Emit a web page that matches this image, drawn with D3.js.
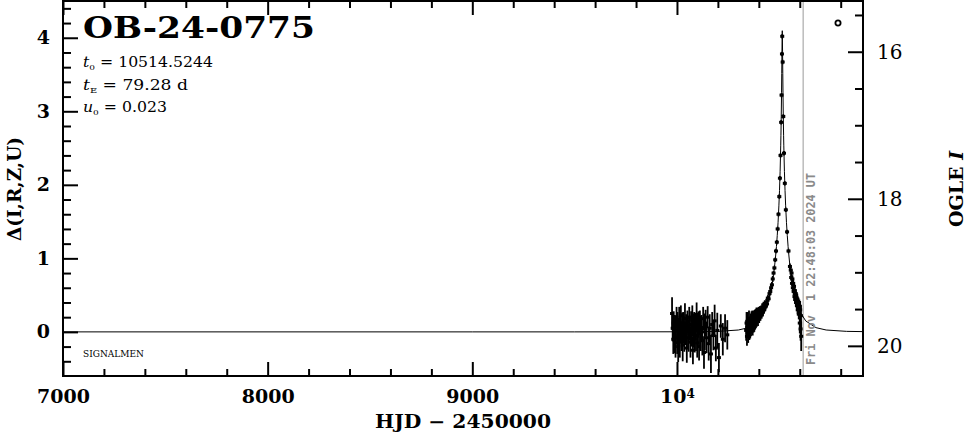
<!DOCTYPE html>
<html><head><meta charset="utf-8">
<script src="https://cdn.jsdelivr.net/npm/d3@7"></script>
<style>body{margin:0;background:#fff}</style></head>
<body>
<svg id="c" width="966" height="434"></svg>
<script>
// ---- tick values / labels ----
const xMajorTicks = [7000, 8000, 9000, 10000];
const xTickLabels = ["7000", "8000", "9000", "10^4"];
const yLeftTicks = [0, 1, 2, 3, 4];
const yRightTicks = [16, 18, 20];

// ---- texts ----
const eventName = "OB-24-0775";
const paramLines = [["t", "0", " = 10514.5244"], ["t", "E", " = 79.28 d"], ["u", "0", " = 0.023"]];
const dateText = "Fri Nov  1 22:48:03 2024 UT";
const dateHJD = 10616.45;

// ---- model curve ----
const modelT = [7000, 9000, 9500, 10000, 10200, 10300, 10350, 10400, 10430, 10439.5, 10450, 10459.5, 10466, 10470, 10474, 10478, 10482, 10486, 10490, 10494, 10498, 10501, 10504, 10507, 10508, 10509.5, 10511, 10512, 10513, 10514.52, 10516.04, 10517.04, 10518.04, 10519.54, 10521.04, 10522.04, 10525.04, 10528.04, 10531.04, 10535.04, 10539.04, 10543.04, 10547.04, 10551.04, 10555.04, 10559.04, 10563.04, 10569.5, 10579.04, 10589.5, 10599.04, 10629.04, 10679.04, 10729.04, 10829.04, 10909];
const modelD = [0, 0.0001, 0.0001, 0.0012, 0.0071, 0.0256, 0.0575, 0.149, 0.283, 0.352, 0.451, 0.569, 0.670, 0.744, 0.827, 0.922, 1.032, 1.159, 1.309, 1.490, 1.714, 1.922, 2.184, 2.530, 2.674, 2.929, 3.252, 3.515, 3.809, 4.096, 3.809, 3.515, 3.252, 2.929, 2.674, 2.530, 2.184, 1.922, 1.714, 1.490, 1.309, 1.159, 1.032, 0.922, 0.827, 0.744, 0.670, 0.569, 0.451, 0.352, 0.283, 0.149, 0.0575, 0.0256, 0.0071, 0.0036];

// ---- OGLE observations: season 2023 ----
const s23T = [9976, 9979, 9982, 9984, 9987, 9990, 9993, 9995, 9998, 10001,
  10003, 10006, 10009, 10011, 10014, 10017, 10019, 10022, 10025, 10028,
  10030, 10033, 10036, 10039, 10042, 10045, 10048, 10051, 10054, 10057,
  10060, 10063, 10066, 10069, 10072, 10075, 10078, 10081, 10084, 10087,
  10090, 10093, 10096, 10099, 10102, 10105, 10108, 10112, 10116, 10120,
  10124, 10128, 10132, 10136, 10140, 10145, 10150, 10155, 10160, 10166,
  10172, 10178, 10184, 10190, 10197, 10205, 10214, 10224, 10235, 10246];
const s23D = [0.25, 0.05, -0.10, 0.12, -0.05, 0.08, -0.15, 0.02, 0.20, -0.08,
  0.10, -0.20, 0.04, 0.15, -0.12, 0.00, 0.22, -0.06, 0.08, -0.18,
  0.12, 0.03, -0.10, 0.18, -0.02, 0.06, -0.22, 0.14, 0.00, -0.08,
  0.20, 0.05, -0.14, 0.10, -0.04, 0.16, -0.25, 0.02, 0.12, -0.10,
  0.07, -0.05, 0.24, -0.15, 0.03, 0.10, -0.20, 0.14, -0.02, 0.06,
  -0.12, 0.18, -0.28, 0.00, 0.12, -0.08, 0.20, -0.16, 0.05, -0.30,
  0.10, -0.05, 0.15, -0.22, 0.02, -0.35, 0.08, -0.10, 0.05, -0.04];
const s23E = [0.22, 0.18, 0.20, 0.16, 0.24, 0.15, 0.20, 0.18, 0.14, 0.22,
  0.17, 0.21, 0.15, 0.19, 0.23, 0.16, 0.14, 0.20, 0.18, 0.22,
  0.15, 0.19, 0.17, 0.21, 0.16, 0.18, 0.20, 0.15, 0.22, 0.19,
  0.14, 0.17, 0.21, 0.18, 0.16, 0.20, 0.19, 0.23, 0.15, 0.18,
  0.17, 0.21, 0.16, 0.20, 0.22, 0.18, 0.19, 0.15, 0.24, 0.17,
  0.20, 0.16, 0.22, 0.25, 0.18, 0.21, 0.15, 0.23, 0.19, 0.26,
  0.17, 0.20, 0.22, 0.18, 0.24, 0.20, 0.16, 0.22, 0.19, 0.20];

// ---- season 2024 ----
const s24T = [10338, 10340, 10342, 10344, 10346, 10348, 10350, 10352, 10354, 10356,
  10358, 10360, 10362, 10364, 10366, 10368, 10370, 10372, 10374, 10376,
  10378, 10380, 10382, 10384, 10386, 10388, 10390, 10393, 10396, 10399,
  10402, 10405, 10408, 10411, 10414, 10417, 10420, 10423, 10426, 10429,
  10432, 10436, 10440, 10444, 10448, 10452, 10456, 10460,
  10464, 10468, 10472, 10476, 10480, 10484, 10488, 10492, 10496, 10500,
  10503, 10506, 10509, 10511, 10513, 10514.3,
  10516.5, 10519.5, 10523, 10527, 10532, 10538, 10545, 10552, 10556, 10558,
  10560, 10562, 10564, 10566, 10568, 10570, 10572, 10574, 10576, 10578,
  10580, 10582, 10584, 10586, 10588, 10590, 10593, 10595, 10598, 10600,
  10602, 10604, 10606, 10607];
const s24D = [0.02, 0.12, -0.06, 0.06, 0.15, -0.02, 0.08, 0.16, 0.01, 0.10,
  0.03, 0.14, 0.06, 0.17, 0.08, 0.18, 0.05, 0.16, 0.09, 0.20,
  0.10, 0.21, 0.12, 0.22, 0.13, 0.24, 0.15, 0.25, 0.16, 0.27,
  0.19, 0.28, 0.22, 0.30, 0.24, 0.33, 0.27, 0.36, 0.30, 0.38,
  0.34, 0.40, 0.38, 0.46, 0.45, 0.52, 0.55, 0.60,
  0.64, 0.72, 0.80, 0.87, 0.98, 1.10, 1.22, 1.40, 1.60, 1.84,
  2.09, 2.40, 2.85, 3.22, 3.78, 4.02,
  3.67, 2.93, 2.43, 2.02, 1.66, 1.36, 1.10, 0.89, 0.84, 0.74,
  0.80, 0.66, 0.72, 0.60, 0.66, 0.55, 0.62, 0.48, 0.56, 0.44,
  0.52, 0.40, 0.47, 0.36, 0.44, 0.30, 0.38, 0.26, 0.34, 0.12,
  0.30, 0.04, 0.22, -0.06];
const s24E = [0.14, 0.15, 0.13, 0.14, 0.12, 0.13, 0.12, 0.13, 0.12, 0.11,
  0.12, 0.11, 0.12, 0.11, 0.10, 0.11, 0.10, 0.10, 0.10, 0.09,
  0.10, 0.09, 0.09, 0.09, 0.08, 0.09, 0.08, 0.08, 0.08, 0.07,
  0.07, 0.07, 0.07, 0.06, 0.06, 0.06, 0.06, 0.05, 0.05, 0.05,
  0.05, 0.05, 0.05, 0.04, 0.04, 0.04, 0.04, 0.04,
  0.04, 0.04, 0.03, 0.03, 0.03, 0.03, 0.03, 0.03, 0.03, 0.03,
  0.03, 0.03, 0.03, 0.03, 0.03, 0.03,
  0.03, 0.03, 0.03, 0.03, 0.03, 0.03, 0.03, 0.04, 0.04, 0.04,
  0.04, 0.04, 0.05, 0.05, 0.05, 0.05, 0.05, 0.06, 0.06, 0.06,
  0.06, 0.07, 0.07, 0.07, 0.08, 0.08, 0.09, 0.09, 0.10, 0.14,
  0.12, 0.16, 0.15, 0.20];

const baseI = 19.81; // OGLE I at Delta = 0

// ---------------- drawing ----------------
const svg = d3.select("#c");
const L = 63, R = 863, T = 1, B = 376;
const x = d3.scaleLinear().domain([7000, 10909]).range([L, R]);
const y = d3.scaleLinear().domain([-0.6, 4.5]).range([B, T]);
const yR = d3.scaleLinear().domain([baseI + 0.6, baseI - 4.5]).range([B, T]);
const serif = "'DejaVu Serif', serif";

svg.append("rect").attr("width", 966).attr("height", 434).attr("fill", "#fff");

svg.append("defs").append("clipPath").attr("id", "clip")
  .append("rect").attr("x", L).attr("y", T).attr("width", R - L).attr("height", B - T);

const plot = svg.append("g").attr("clip-path", "url(#clip)");

// date line
plot.append("line").attr("x1", x(dateHJD)).attr("x2", x(dateHJD))
  .attr("y1", T).attr("y2", B).attr("stroke", "#999").attr("stroke-width", 1);

// model line
const modelPts = modelT.map((t, i) => [t, modelD[i]]);
plot.append("path").datum(modelPts)
  .attr("d", d3.line().x(d => x(d[0])).y(d => y(d[1])))
  .attr("fill", "none").attr("stroke", "#000").attr("stroke-width", 1);

// observations
const obs = s23T.map((t, i) => ({t, d: s23D[i], e: s23E[i]}))
  .concat(s24T.map((t, i) => ({t, d: s24D[i], e: s24E[i]})));
plot.selectAll("line.err").data(obs).join("line").attr("class", "err")
  .attr("x1", d => x(d.t)).attr("x2", d => x(d.t))
  .attr("y1", d => y(d.d - d.e)).attr("y2", d => y(d.d + d.e))
  .attr("stroke", "#000").attr("stroke-width", 1.8);
plot.selectAll("rect.pt").data(obs).join("rect").attr("class", "pt")
  .attr("x", d => x(d.t) - 2).attr("y", d => y(d.d) - 1.5)
  .attr("width", 4).attr("height", 3).attr("fill", "#000");

// date text
svg.append("text")
  .attr("transform", `translate(${x(dateHJD) + 12},365) rotate(-90)`)
  .attr("font-family", "'DejaVu Sans Mono', monospace").attr("font-weight", "bold")
  .attr("font-size", 12).attr("fill", "#8a8a8a")
  .attr("textLength", 192).attr("lengthAdjust", "spacingAndGlyphs")
  .attr("xml:space", "preserve")
  .text(dateText);

// axes
function styleAxis(g) {
  g.select(".domain").remove();
  g.selectAll(".tick line").attr("stroke", "#000").attr("stroke-width", 2);
  g.selectAll(".tick text").attr("font-family", serif).attr("font-weight", "bold")
    .attr("font-size", 19).attr("fill", "#000");
}
const xMinor = d3.range(7000, 10901, 200).filter(v => !xMajorTicks.includes(v));
const gxb = svg.append("g").attr("transform", `translate(0,${B})`)
  .call(d3.axisBottom(x).tickValues(xMajorTicks).tickSize(-14).tickPadding(14).tickFormat((d, i) => xTickLabels[i]));
styleAxis(gxb);
gxb.selectAll(".tick text").each(function(d, i) {
  const lab = xTickLabels[i];
  if (lab.includes("^")) {
    const [b, p] = lab.split("^");
    const s = d3.select(this).text("");
    s.append("tspan").text(b);
    s.append("tspan").attr("font-size", 12).attr("dy", "-0.45em").text(p);
  }
});
svg.append("g").attr("transform", `translate(0,${B})`)
  .call(d3.axisBottom(x).tickValues(xMinor).tickSize(-7).tickFormat("")).call(styleAxis);
svg.append("g").attr("transform", `translate(0,${T})`)
  .call(d3.axisTop(x).tickValues(xMajorTicks).tickSize(-14).tickFormat("")).call(styleAxis);
svg.append("g").attr("transform", `translate(0,${T})`)
  .call(d3.axisTop(x).tickValues(xMinor).tickSize(-7).tickFormat("")).call(styleAxis);

const yMinor = d3.range(-0.4, 4.41, 0.2).map(v => +v.toFixed(1)).filter(v => !yLeftTicks.includes(v));
svg.append("g").attr("transform", `translate(${L},0)`)
  .call(d3.axisLeft(y).tickValues(yLeftTicks).tickSize(-15).tickPadding(13).tickFormat(d3.format("d"))).call(styleAxis);
svg.append("g").attr("transform", `translate(${L},0)`)
  .call(d3.axisLeft(y).tickValues(yMinor).tickSize(-8).tickFormat("")).call(styleAxis);

const rMinor = [15.5, 16.5, 17, 17.5, 18.5, 19, 19.5];
const gr = svg.append("g").attr("transform", `translate(${R},0)`)
  .call(d3.axisRight(yR).tickValues(yRightTicks).tickSize(-15).tickPadding(14).tickFormat(d3.format("d")));
styleAxis(gr);
gr.selectAll(".tick text").attr("font-weight", "normal").attr("font-size", 20);
svg.append("g").attr("transform", `translate(${R},0)`)
  .call(d3.axisRight(yR).tickValues(rMinor).tickSize(-8).tickFormat("")).call(styleAxis);

// frame
svg.append("rect").attr("x", L).attr("y", T).attr("width", R - L).attr("height", B - T)
  .attr("fill", "none").attr("stroke", "#000").attr("stroke-width", 2);

// OGLE symbol
svg.append("circle").attr("cx", 838).attr("cy", 23).attr("r", 2.6)
  .attr("fill", "none").attr("stroke", "#000").attr("stroke-width", 1.8);

// title + params
svg.append("text").attr("x", 83).attr("y", 38)
  .attr("font-family", serif).attr("font-weight", "bold").attr("font-size", 29)
  .attr("textLength", 232).attr("lengthAdjust", "spacingAndGlyphs")
  .text(eventName);
const paramBase = [67, 90, 112];
const paramLen = [130, 105, 84];
paramLines.forEach((p, i) => {
  const t = svg.append("text").attr("x", 83).attr("y", paramBase[i])
    .attr("font-family", serif).attr("font-size", 14)
    .attr("textLength", paramLen[i]).attr("lengthAdjust", "spacingAndGlyphs");
  t.append("tspan").attr("font-style", "italic").text(p[0]);
  t.append("tspan").attr("font-size", 8).attr("dy", 3).text(p[1]);
  t.append("tspan").attr("dy", -3).attr("xml:space", "preserve").text(p[2]);
});

svg.append("text").attr("x", 83).attr("y", 357)
  .attr("font-family", serif).attr("font-size", 9).text("SIGNALMEN");

// axis titles
svg.append("text").attr("transform", "translate(21,189) rotate(-90)")
  .attr("text-anchor", "middle").attr("font-family", serif).attr("font-weight", "bold")
  .attr("font-size", 19).attr("textLength", 104).attr("lengthAdjust", "spacingAndGlyphs")
  .text("Δ(I,R,Z,U)");
const og = svg.append("text").attr("transform", "translate(963,189) rotate(-90)")
  .attr("text-anchor", "middle").attr("font-family", serif).attr("font-weight", "bold")
  .attr("font-size", 19);
og.append("tspan").text("OGLE ");
og.append("tspan").attr("font-style", "italic").text("I");
svg.append("text").attr("x", 463).attr("y", 428)
  .attr("text-anchor", "middle").attr("font-family", serif).attr("font-weight", "bold")
  .attr("font-size", 18).attr("textLength", 176).attr("lengthAdjust", "spacingAndGlyphs")
  .attr("xml:space", "preserve")
  .text("HJD − 2450000");
</script>
</body></html>
